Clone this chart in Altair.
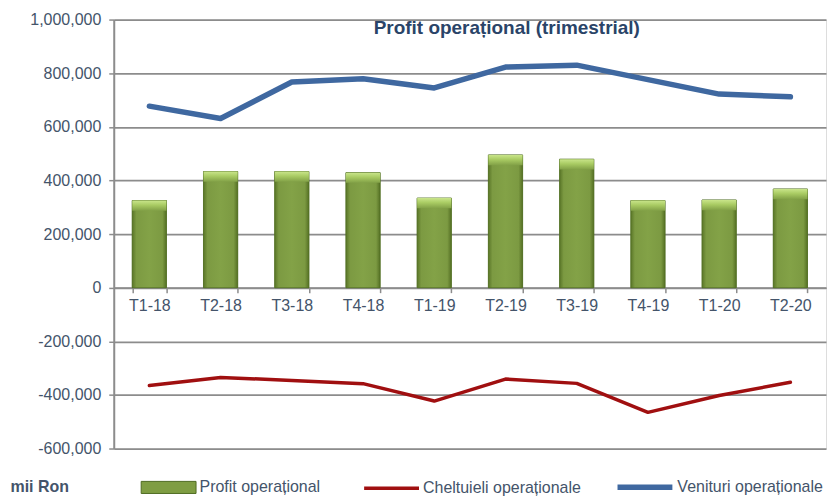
import altair as alt
import pandas as pd

quarters = ["T1-18", "T2-18", "T3-18", "T4-18", "T1-19", "T2-19", "T3-19", "T4-19", "T1-20", "T2-20"]
profit = [325000, 433000, 433000, 429000, 334000, 495000, 479000, 325000, 327000, 368000]
cheltuieli = [-365000, -335000, -346000, -358000, -423000, -341000, -357000, -465000, -402000, -353000]
venituri = [677000, 631000, 767000, 779000, 745000, 823000, 830000, 776000, 722000, 712000]

series_names = ["Cheltuieli operaționale", "Venituri operaționale"]
series_colors = ["#A00F10", "#3F68A0"]
series_widths = [3.5, 5.5]

FONT = "Liberation Sans"
TXT = "#44546A"
GRID = "#8C8C8C"

df = pd.DataFrame({"q": quarters, "profit": profit,
                   "Cheltuieli operaționale": cheltuieli,
                   "Venituri operaționale": venituri})

x = alt.X("q:N", sort=quarters, title=None,
          scale=alt.Scale(paddingInner=0.52, paddingOuter=0.26),
          axis=alt.Axis(offset=-161.25, labelAngle=0, labelFont=FONT, labelFontSize=16,
                        labelColor=TXT, labelPadding=5, tickBand="extent", tickSize=5,
                        tickColor=GRID, domainColor=GRID, domainWidth=1.75, tickWidth=1.5,
                        grid=False))

y_scale = alt.Scale(domain=[-600000, 1000000], nice=False)
y_axis = alt.Axis(values=[-600000, -400000, -200000, 0, 200000, 400000, 600000, 800000, 1000000],
                  labelExpr="replace(format(datum.value, ','), '\u2212', '-')",
                  labelFont=FONT, labelFontSize=16, labelColor=TXT, labelPadding=8,
                  tickSize=5, tickColor=GRID, tickWidth=1.5, domainColor=GRID, domainWidth=2,
                  gridColor=GRID, gridWidth=1.75, gridOpacity=1,
                  title="mii Ron", titleAngle=0, titleX=-104, titleY=468, titleAlign="left",
                  titleBaseline="middle", titleFont=FONT, titleFontSize=16, titleFontWeight="bold",
                  titleColor=TXT)

base = alt.Chart(df)

bars_legend = base.transform_calculate(serie="'Profit operațional'").mark_bar(
    stroke="#4F6B22", strokeWidth=0.6).encode(
    x=x,
    y=alt.Y("profit:Q", scale=y_scale, axis=y_axis),
    fill=alt.Fill("serie:N", scale=alt.Scale(domain=["Profit operațional"], range=["#7F9D43"]),
                  legend=alt.Legend(title=None, orient="none", legendX=27, legendY=441,
                                    symbolType="M-1,-0.22H1V0.22H-1Z", symbolSize=3025,
                                    symbolStrokeColor="#4F6B22", symbolStrokeWidth=1,
                                    labelFont=FONT, labelFontSize=16, labelColor=TXT,
                                    labelOffset=3))
)

bars_grad = base.mark_bar(
    fill=alt.Gradient(gradient="linear", x1=0, x2=1, y1=0, y2=0,
                      stops=[alt.GradientStop(offset=0, color="#5A7628"),
                             alt.GradientStop(offset=0.12, color="#7C9A42"),
                             alt.GradientStop(offset=0.5, color="#83A247"),
                             alt.GradientStop(offset=0.88, color="#7C9A42"),
                             alt.GradientStop(offset=1, color="#557024")]),
    stroke="#4F6B22", strokeWidth=0.6).encode(
    x=x, y=alt.Y("profit:Q", scale=y_scale))

bars_top = base.transform_calculate(top2="datum.profit - 38000").mark_bar(
    fill=alt.Gradient(gradient="linear", x1=0, x2=0, y1=0, y2=1,
                      stops=[alt.GradientStop(offset=0, color="#C9E58A"),
                             alt.GradientStop(offset=0.45, color="#A9CB63"),
                             alt.GradientStop(offset=1, color="#82A147")])).encode(
    x=x, y=alt.Y("profit:Q", scale=y_scale), y2="top2:Q")

lines = base.transform_fold(series_names, as_=["serie", "val"]).mark_line(
    strokeCap="round", strokeJoin="round").encode(
    x=x,
    y=alt.Y("val:Q", scale=y_scale),
    stroke=alt.Stroke("serie:N", scale=alt.Scale(domain=series_names, range=series_colors),
                      legend=alt.Legend(title=None, orient="none", legendX=249, legendY=438,
                                        direction="horizontal", symbolType="stroke",
                                        symbolSize=3025, symbolStrokeWidth=4.5,
                                        labelFont=FONT, labelFontSize=16, labelColor=TXT,
                                        labelOffset=2, columnPadding=25)),
    strokeWidth=alt.StrokeWidth("serie:N", scale=alt.Scale(domain=series_names, range=series_widths),
                                legend=None),
)

chart = alt.layer(bars_legend, bars_grad, bars_top, lines).properties(
    width=714, height=430,
    autosize=alt.AutoSizeParams(type="none"),
    padding={"left": 106, "top": 11, "right": 4, "bottom": 48},
    title=alt.TitleParams("Profit operațional (trimestrial)", anchor="middle", dx=37,
                          offset=-8, dy=27, baseline="middle", font=FONT, fontSize=19,
                          fontWeight="bold", color="#2A4468"),
).configure_view(stroke=None).configure(background="white")

chart.save("out.html", embed_options={"renderer": "svg", "actions": False})
